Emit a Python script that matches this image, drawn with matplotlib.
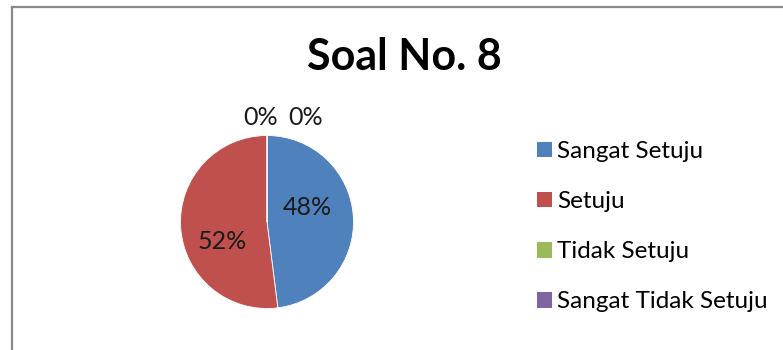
import matplotlib.pyplot as plt
from matplotlib.lines import Line2D
from matplotlib.patches import Patch

plt.rcParams['font.family'] = ['Lato', 'DejaVu Sans']

# Survey answers for question 8
categories = ['Sangat Setuju', 'Setuju', 'Tidak Setuju', 'Sangat Tidak Setuju']
percent = [48, 52, 0, 0]
colors = ['#4F81BD', '#C0504D', '#9BBB59', '#8064A2']
title = 'Soal No. 8'

W, H = 783, 350
fig = plt.figure(figsize=(W / 100, H / 100), dpi=100)

# pie axes: centre (267, 222) px, radius 86.5 px
cx, cy, r = 267, 222, 86.5
ax = fig.add_axes([(cx - r) / W, (H - cy - r) / H, 2 * r / W, 2 * r / H])
wedges, _ = ax.pie(percent, colors=colors, startangle=90, counterclock=False,
                   radius=1, wedgeprops=dict(edgecolor='white', linewidth=0.6))
ax.set_xlim(-1, 1)
ax.set_ylim(-1, 1)
ax.set_aspect('equal')
ax.axis('off')

# data labels, placed the way the spreadsheet put them
label_pos = [(0.47, 0.17), (-0.52, -0.23), (-0.07, 1.21), (0.45, 1.21)]
for v, (lx, ly) in zip(percent, label_pos):
    ax.text(lx, ly, f'{v}%', ha='center', va='center', fontsize=18,
            color='#1a1a1a', clip_on=False)

fig.text(404.5 / W, 1 - 57.5 / H, title, ha='center', va='center',
         fontsize=31, fontweight='bold', color='black')

handles = [Patch(facecolor=c, edgecolor='none') for c in colors]
fig.legend(handles, categories, loc='upper left',
           bbox_to_anchor=(537 / W, 1 - 141 / H), frameon=False,
           fontsize=17.5, handlelength=0.62, handleheight=0.62,
           handletextpad=0.22, labelspacing=1.2, borderpad=0,
           borderaxespad=0)

# chart area border (left and top edges visible)
border = '#8a8a8a'
fig.add_artist(Line2D([11.5 / W, 11.5 / W], [0, 1 - 6.5 / H],
                      color=border, linewidth=1.6, transform=fig.transFigure))
fig.add_artist(Line2D([11.5 / W, 1], [1 - 6.5 / H, 1 - 6.5 / H],
                      color=border, linewidth=1.6, transform=fig.transFigure))

fig.savefig('out.png', dpi=100)
